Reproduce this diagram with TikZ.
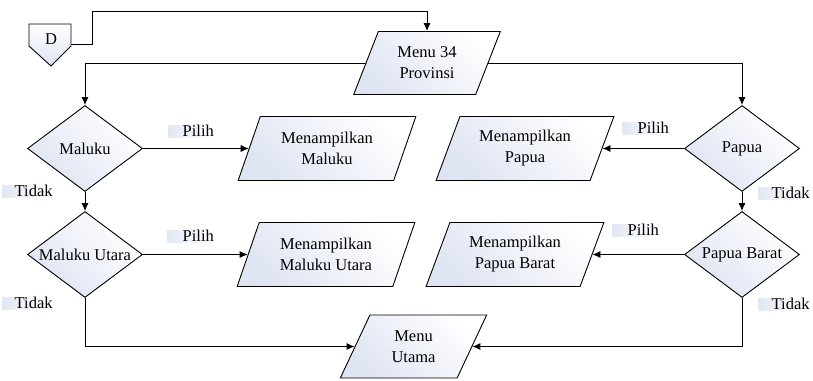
\documentclass[tikz,border=0pt]{standalone}
\usepackage{fontspec}
\setmainfont{Liberation Serif}
\usepackage{tikz}
\usetikzlibrary{positioning,shapes,shapes.geometric,arrows,arrows.meta,calc}

\definecolor{shapefill}{RGB}{222,228,242}
\definecolor{lblfill}{RGB}{226,231,243}

\tikzset{
  base/.style={draw, line width=0.9pt, font=\fontsize{16.5}{21}\selectfont, align=center,
               top color=white, bottom color=shapefill, shading angle=-45},
  decision/.style={base, diamond, inner sep=0pt, aspect=1.35, minimum width=115pt, minimum height=86pt},
  io/.style={base, trapezium, trapezium left angle=65, trapezium right angle=115,
             trapezium stretches=true, inner sep=0pt, minimum width=178pt, minimum height=64pt},
  menuio/.style={io, minimum width=147pt, minimum height=63pt},
  lbl/.style={anchor=west, inner sep=0.5pt, text height=11pt, text depth=0pt,
              left color=lblfill, right color=white, font=\fontsize{16.5}{21}\selectfont},
  line/.style={line width=0.9pt, -{Latex[length=8pt,width=7pt]}}
}

\begin{document}
\begin{tikzpicture}[x=1pt,y=-1pt]
            \useasboundingbox (0,0) rectangle (813,380);

            % penghubung halaman
            \draw[line width=0.9pt, top color=white, bottom color=shapefill]
                (29,24) -- (71,24) -- (71,46) -- (51,66) -- (29,46) -- cycle;
            \node[font=\fontsize{16.5}{21}\selectfont] (D) at (51,39) {D};
            \coordinate (Dout) at (71,44);

            \node[menuio] (menu34) at (427,63) {Menu 34\\Provinsi};

            \node[decision] (maluku) at (85,148.5) {Maluku};
            \node[decision] (malukuutara) at (85,254.5) {Maluku Utara};
            \node[decision] (papua) at (742,148.5) {Papua};
            \node[decision] (papuabarat) at (742,254.5) {Papua Barat};

            \node[io] (tmaluku) at (327,148.5) {Menampilkan\\Maluku};
            \node[io] (tmalukuutara) at (326,254.5) {Menampilkan\\Maluku Utara};
            \node[io] (tpapua) at (525,148.5) {Menampilkan\\Papua};
            \node[io] (tpapuabarat) at (515,254.5) {Menampilkan\\Papua Barat};

            \node[menuio] (menuutama) at (413.5,346.5) {Menu\\Utama};

            % label pilihan
            \node[lbl] (pilih1) at (168,131) {\hspace*{14pt}Pilih};
            \node[lbl] (tidak1) at (2,191) {\hspace*{12pt}Tidak};
            \node[lbl] (pilih2) at (167,236) {\hspace*{15pt}Pilih};
            \node[lbl] (tidak2) at (2,303) {\hspace*{12pt}Tidak};
            \node[lbl] (pilih3) at (622,128) {\hspace*{15pt}Pilih};
            \node[lbl] (tidak3) at (758,193) {\hspace*{13pt}Tidak};
            \node[lbl] (pilih4) at (612,230) {\hspace*{15pt}Pilih};
            \node[lbl] (tidak4) at (758,304) {\hspace*{13pt}Tidak};

            \draw[line] (Dout) -- ++(21,0) -- ++(0,-33) -| (menu34.north);
            \draw[line] (menu34.west) -| (maluku.north);
            \draw[line] (menu34.east) -| (papua.north);

            \draw[line] (maluku.east) -- (tmaluku.west);
            \draw[line] (maluku.south) -- (malukuutara.north);
            \draw[line] (malukuutara.east) -- (tmalukuutara.west);
            \draw[line] (malukuutara.south) |- (menuutama.west);

            \draw[line] (papua.west) -- (tpapua.east);
            \draw[line] (papua.south) -- (papuabarat.north);
            \draw[line] (papuabarat.west) -- (tpapuabarat.east);
            \draw[line] (papuabarat.south) |- (menuutama.east);
        \end{tikzpicture}
\end{document}
